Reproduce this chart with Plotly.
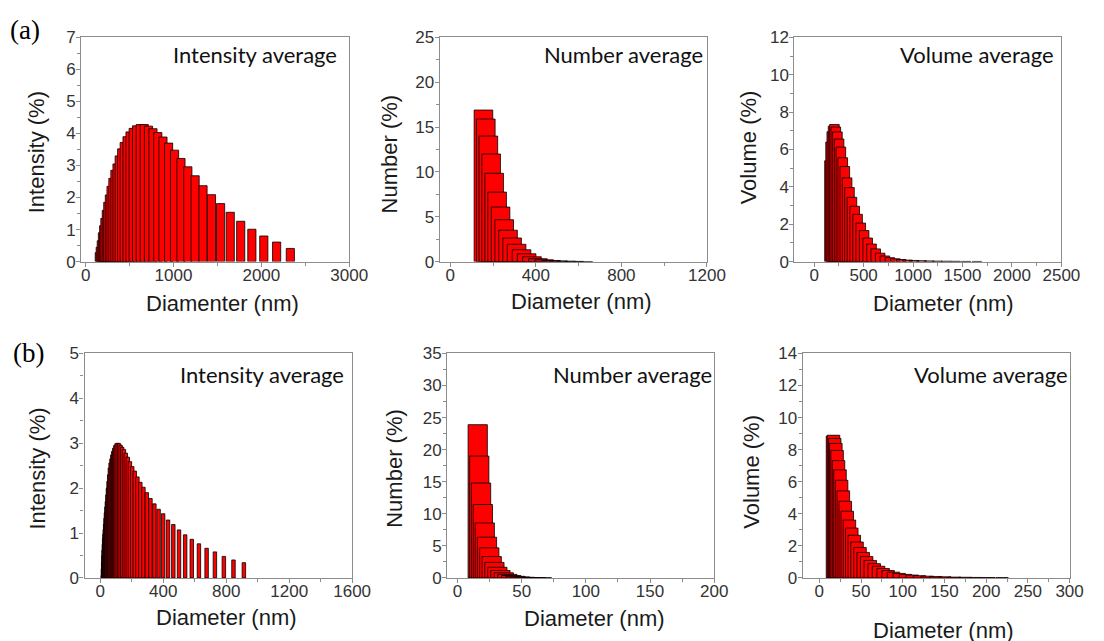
import plotly.graph_objects as go

W, H = 1104, 641

# ---------------- data ----------------
# sample (a): size classes (nm)
diam_a = [155, 166, 178, 191, 205, 219, 235, 252, 270, 289, 310, 333, 357, 382, 410,
          439, 471, 505, 541, 580, 622, 667, 715, 766, 821, 880, 944, 1012, 1085, 1163,
          1246, 1336, 1432, 1536, 1646, 1765, 1892, 2028, 2174, 2330]
int_a = [0.28, 0.45, 0.65, 0.9, 1.12, 1.35, 1.6, 1.85, 2.08, 2.35, 2.6, 2.85, 3.05, 3.3,
         3.52, 3.72, 3.9, 4.05, 4.16, 4.24, 4.28, 4.28, 4.23, 4.15, 4.03, 3.89, 3.70,
         3.48, 3.22, 2.96, 2.68, 2.37, 2.09, 1.81, 1.54, 1.26, 1.01, 0.80, 0.61, 0.41]
num_a = [16.9, 15.9, 14.0, 12.0, 9.85, 7.75, 6.08, 4.67, 3.5, 2.63, 1.93, 1.32, 0.87,
         0.54, 0.32, 0.2, 0.12, 0.07, 0.04, 0.02, 0.01]
vol_a = [5.4, 6.4, 6.95, 7.25, 7.34, 7.2, 6.94, 6.56, 6.13, 5.56, 5.09, 4.48, 3.96, 3.44,
         2.96, 2.53, 2.06, 1.66, 1.26, 0.94, 0.68, 0.45, 0.30, 0.21, 0.15, 0.11, 0.08,
         0.06, 0.045, 0.035, 0.025, 0.02, 0.015, 0.01, 0.008]

# sample (b): size classes (nm)
diam_b = [15.8, 17.0, 18.4, 19.8, 21.3, 23.0, 24.8, 26.7, 28.8, 31.1, 33.5, 36.1, 38.9,
          41.9, 45.2, 48.8, 52.6, 56.7, 61.1, 65.8, 71.0, 76.5, 82.5, 88.9, 95.8, 103.3,
          111.4, 120.1, 129.4, 139.5, 150.4, 162.2, 174.8, 188.4, 203.1, 219.0, 236.1,
          254.5, 274.3, 295.7, 318.8, 343.7, 370.5, 399.4, 430.5, 464.1, 500.3, 539.3,
          581.4, 626.7, 675.6, 728.3, 785.1, 846.3, 912.3]
int_b = [0.05, 0.2, 0.35, 0.5, 0.62, 0.75, 0.88, 0.98, 1.08, 1.2, 1.33, 1.45, 1.58, 1.7,
         1.85, 2.0, 2.15, 2.3, 2.45, 2.56, 2.65, 2.74, 2.82, 2.89, 2.95, 2.99, 3.0, 2.99,
         2.95, 2.91, 2.86, 2.78, 2.69, 2.59, 2.48, 2.38, 2.25, 2.13, 2.02, 1.90, 1.77,
         1.65, 1.53, 1.43, 1.29, 1.19, 1.07, 0.96, 0.86, 0.76, 0.66, 0.58, 0.48, 0.40, 0.34]
num_b = [23.9, 19.0, 14.8, 11.45, 8.57, 6.35, 4.69, 3.33, 2.42, 1.66, 1.16, 0.8, 0.55,
         0.38, 0.25, 0.16, 0.1, 0.06, 0.03, 0.015]
vol_b = [8.85, 8.90, 8.70, 8.39, 7.95, 7.32, 6.74, 6.09, 5.43, 4.78, 4.16, 3.61, 3.11,
         2.66, 2.24, 1.90, 1.59, 1.33, 1.09, 0.89, 0.73, 0.59, 0.46, 0.36, 0.28, 0.22,
         0.18, 0.14, 0.11, 0.09, 0.07, 0.05, 0.04, 0.03, 0.02, 0.015]

# ---------------- panel configuration (styles / positions) ----------------
panels = [
    dict(x=diam_a, y=int_a, w=93, xr=[-50, 3000], xd=1000, yr=[0, 7], yd=1,
         box=(82.7, 355.3, 29.3, 260.3), label="Intensity average", lab=(345, 47),
         ytitle="Intensity (%)", yt=(37.3, 148), xtitle="Diamenter (nm)", xt=(226.7, 303)),
    dict(x=diam_a, y=num_a, w=87, xr=[-50, 1200], xd=400, yr=[0, 25], yd=5,
         box=(447.3, 719.3, 29.3, 260.3), label="Number average", lab=(717.5, 47),
         ytitle="Number (%)", yt=(396.7, 149), xtitle="Diameter (nm)", xt=(591.7, 301)),
    dict(x=diam_a, y=vol_a, w=97, xr=[-200, 2500], xd=500, yr=[0, 12], yd=2,
         box=(808.3, 1080, 29.3, 260.3), label="Volume average", lab=(1074.5, 47),
         ytitle="Volume (%)", yt=(761.7, 143), xtitle="Diameter (nm)", xt=(960, 303)),
    dict(x=diam_b, y=int_b, w=22, xr=[-100, 1600], xd=400, yr=[0, 5], yd=1,
         box=(86, 358.3, 355, 586.3), label="Intensity average", lab=(352, 377),
         ytitle="Intensity (%)", yt=(38.3, 474), xtitle="Diameter (nm)", xt=(230, 627)),
    dict(x=diam_b, y=num_b, w=15, xr=[-8, 200], xd=50, yr=[0, 35], yd=5,
         box=(455, 726.7, 355, 586.3), label="Number average", lab=(726, 377),
         ytitle="Number (%)", yt=(401.7, 473), xtitle="Diameter (nm)", xt=(605, 628)),
    dict(x=diam_b, y=vol_b, w=15, xr=[-20, 300], xd=50, yr=[0, 14], yd=2,
         box=(816.7, 1088.3, 355, 586.3), label="Volume average", lab=(1089, 377),
         ytitle="Volume (%)", yt=(765, 477), xtitle="Diameter (nm)", xt=(960, 640)),
]

AXC = "#8c8c8c"
TICKFONT = dict(family="Liberation Sans, Arial, sans-serif", size=17, color="#333333")
TITLEFONT = dict(family="Liberation Sans, Arial, sans-serif", size=22, color="#1a1a1a")

fig = go.Figure()
layout = dict(width=W, height=H, margin=dict(l=0, r=0, t=0, b=0),
              paper_bgcolor="white", plot_bgcolor="white", barmode="overlay",
              showlegend=False)
annotations = []

for i, p in enumerate(panels):
    n = "" if i == 0 else str(i + 1)
    xs = p["x"][:len(p["y"])]
    fig.add_trace(go.Bar(x=xs, y=p["y"], width=p["w"],
                         marker=dict(color="#ff0000", line=dict(color="black", width=0.8)),
                         xaxis="x" + n, yaxis="y" + n, showlegend=False, hoverinfo="x+y"))
    l, r, t, b = p["box"]
    common = dict(showline=True, linecolor=AXC, linewidth=1.2, mirror=True,
                  ticks="outside", ticklen=4, tickcolor=AXC, tickwidth=1,
                  showgrid=False, zeroline=False, tickfont=TICKFONT, tick0=0)
    layout["xaxis" + n] = dict(common, domain=[l / W, r / W], anchor="y" + n,
                               range=p["xr"], dtick=p["xd"], ticklabelstandoff=-6,
                               minor=dict(dtick=p["xd"] / 2, tick0=0, ticks="outside",
                                          ticklen=3, tickcolor=AXC, showgrid=False))
    layout["yaxis" + n] = dict(common, domain=[1 - b / H, 1 - t / H], anchor="x" + n,
                               range=p["yr"], dtick=p["yd"], ticklabelstandoff=-3,
                               minor=dict(dtick=p["yd"] / 2, tick0=0, ticks="outside",
                                          ticklen=3, tickcolor=AXC, showgrid=False))
    annotations.append(dict(text=p["label"], x=p["lab"][0] / W, y=1 - p["lab"][1] / H,
                            xref="paper", yref="paper", xanchor="right", yanchor="middle",
                            showarrow=False,
                            font=dict(family="Lato, Open Sans, sans-serif", size=22,
                                      color="#111111")))
    annotations.append(dict(text=p["xtitle"], x=p["xt"][0] / W, y=1 - p["xt"][1] / H,
                            xref="paper", yref="paper", xanchor="center", yanchor="middle",
                            showarrow=False, font=TITLEFONT))
    annotations.append(dict(text=p["ytitle"], x=p["yt"][0] / W, y=1 - p["yt"][1] / H,
                            xref="paper", yref="paper", xanchor="center", yanchor="middle",
                            textangle=-90, showarrow=False, font=TITLEFONT))

for txt, (px, py) in [("(a)", (25, 22)), ("(b)", (29, 354))]:
    annotations.append(dict(text=txt, x=px / W, y=1 - py / H, xref="paper", yref="paper",
                            xanchor="center", yanchor="middle", showarrow=False,
                            font=dict(family="Liberation Serif, Times New Roman, serif",
                                      size=27, color="black")))

layout["annotations"] = annotations
fig.update_layout(**layout)
fig.write_html("out.html")
